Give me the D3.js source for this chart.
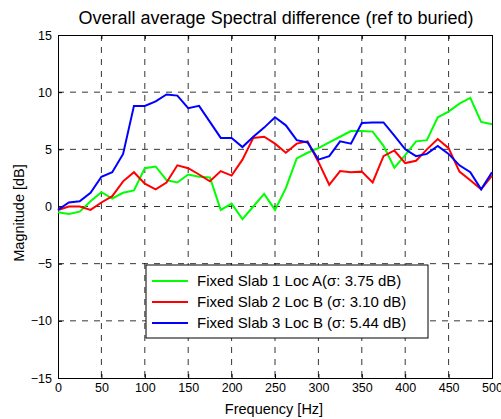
<!DOCTYPE html>
<html><head><meta charset="utf-8">
<script src="https://cdn.jsdelivr.net/npm/d3@7"></script>
<style>body{margin:0;background:#fff}text{font-family:Arial,"Liberation Sans",sans-serif}</style>
</head><body><svg id="c" width="501" height="419"></svg>
<script>
const freqs = d3.range(41).map(i=>i*12.5);
const green = [-0.5,-0.65,-0.45,0.45,1.25,0.7,1.2,1.4,3.35,3.5,2.3,2.1,2.8,2.6,2.55,-0.3,0.25,-1.1,0,1.1,-0.3,1.6,4.2,4.7,5.1,5.6,6.1,6.6,6.6,6.55,5.3,3.4,4.5,5.7,5.8,7.8,8.3,9.0,9.5,7.4,7.2];
const red = [-0.3,0,0,-0.3,0.35,0.9,2.2,3.0,2.0,1.5,2.1,3.6,3.35,2.8,2.2,3.1,2.7,4.1,6.0,6.1,5.5,4.7,5.5,5.7,3.9,1.9,3.1,3.0,3.05,2.1,4.4,4.9,3.8,4.0,5.0,5.9,5.1,3.05,2.3,1.5,2.7];
const blue = [-0.3,0.35,0.45,1.2,2.6,3.0,4.6,8.8,8.8,9.2,9.8,9.7,8.6,8.8,7.4,6.0,6.0,5.2,6.1,6.9,7.8,7.1,5.8,5.6,4.1,4.4,5.7,5.5,7.3,7.35,7.35,6.2,5.0,4.4,4.6,5.3,4.6,3.6,3.0,1.5,3.0];
const seriesNames = ["Fixed Slab 1 Loc A(\u03c3: 3.75 dB)","Fixed Slab 2 Loc B (\u03c3: 3.10 dB)","Fixed Slab 3 Loc B (\u03c3: 5.44 dB)"];
const colors = ["#00ff00","#ff0000","#0000ff"];
const xTicks = d3.range(0,501,50), yTicks = d3.range(-15,16,5);
const svg = d3.select("#c");
const x = d3.scaleLinear().domain([0,500]).range([58,492]);
const y = d3.scaleLinear().domain([-15,15]).range([378,35]);
const g = svg.append("g");
xTicks.forEach(t=>{ if(t>0&&t<500) g.append("line").attr("x1",x(t)).attr("x2",x(t)).attr("y1",y(15)).attr("y2",y(-15)).attr("stroke","#000").attr("stroke-dasharray","6,6").attr("stroke-width",0.8);});
yTicks.forEach(t=>{ if(t>-15&&t<15) g.append("line").attr("y1",y(t)).attr("y2",y(t)).attr("x1",x(0)).attr("x2",x(500)).attr("stroke","#000").attr("stroke-dasharray","6,6").attr("stroke-width",0.8);});
const xa = svg.append("g").attr("transform",`translate(0,${y(-15)})`).call(d3.axisBottom(x).tickValues(xTicks).tickSize(-4).tickPadding(5));
const xt = svg.append("g").attr("transform",`translate(0,${y(15)})`).call(d3.axisTop(x).tickValues(xTicks).tickSize(-4).tickFormat(""));
const ya = svg.append("g").attr("transform",`translate(${x(0)},0)`).call(d3.axisLeft(y).tickValues(yTicks).tickSize(-4).tickPadding(6));
const yr = svg.append("g").attr("transform",`translate(${x(500)},0)`).call(d3.axisRight(y).tickValues(yTicks).tickSize(-4).tickFormat(""));
[xa,xt,ya,yr].forEach(a=>{a.selectAll("path,line").attr("stroke","#000");a.selectAll("text").attr("font-size",12.5).attr("fill","#000");});
const line = d3.line().x((d,i)=>x(freqs[i])).y(d=>y(d));
[green,red,blue].forEach((s,k)=>svg.append("path").datum(s).attr("d",line).attr("fill","none").attr("stroke",colors[k]).attr("stroke-width",2));
svg.append("text").attr("x",276).attr("y",24).attr("text-anchor","middle").attr("font-size",18).text("Overall average Spectral difference (ref to buried)");
svg.append("text").attr("x",274).attr("y",414).attr("text-anchor","middle").attr("font-size",14.5).text("Frequency [Hz]");
svg.append("text").attr("transform","translate(24,213) rotate(-90)").attr("text-anchor","middle").attr("font-size",14.5).text("Magnitude [dB]");
const lg = svg.append("g");
lg.append("rect").attr("x",146).attr("y",265).attr("width",282).attr("height",73).attr("fill","#fff").attr("stroke","#000");
seriesNames.forEach((n,k)=>{
  const yy=281+k*21;
  lg.append("line").attr("x1",152).attr("x2",188).attr("y1",yy).attr("y2",yy).attr("stroke",colors[k]).attr("stroke-width",2);
  lg.append("text").attr("x",197).attr("y",yy+5).attr("font-size",15).text(n);
});
</script></body></html>
